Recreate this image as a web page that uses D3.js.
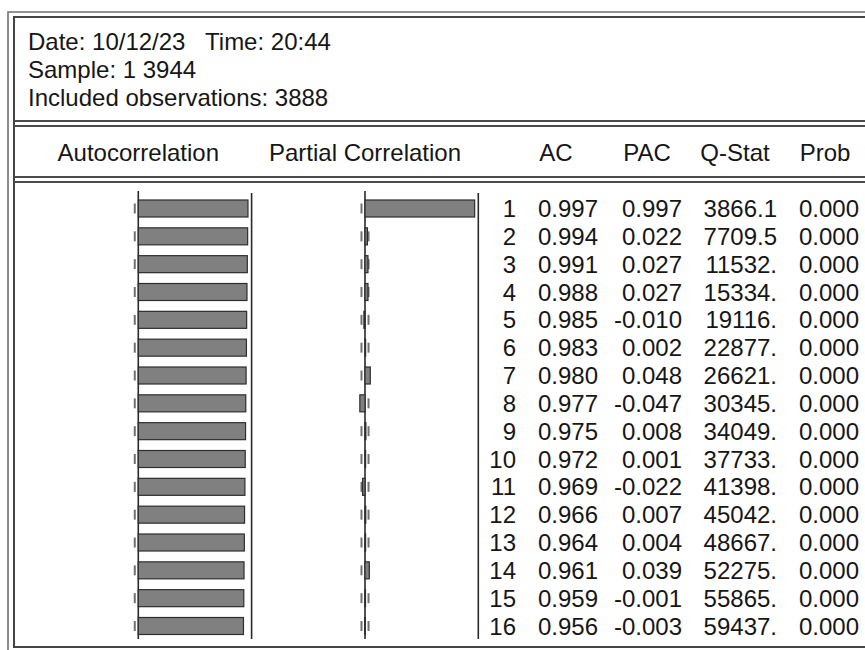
<!DOCTYPE html>
<html>
<head>
<meta charset="utf-8">
<script src="https://cdn.jsdelivr.net/npm/d3@7"></script>
<style>
  html, body { margin: 0; padding: 0; background: #fff; }
  svg { display: block; }
  text { font-family: "Liberation Sans", Arial, sans-serif; fill: #161616; white-space: pre; }
</style>
</head>
<body>
<svg id="chart" width="865" height="650"></svg>
<script>
// Correlogram output: header info, AC / PAC bar panels, and the statistics table
const headerLines = ["Date: 10/12/23   Time: 20:44", "Sample: 1 3944", "Included observations: 3888"];
const columnTitles = ["Autocorrelation", "Partial Correlation", "AC", "PAC", "Q-Stat", "Prob"];
const lags = [1, 2, 3, 4, 5, 6, 7, 8, 9, 10, 11, 12, 13, 14, 15, 16];
const acValues = [0.997, 0.994, 0.991, 0.988, 0.985, 0.983, 0.980, 0.977, 0.975, 0.972, 0.969, 0.966, 0.964, 0.961, 0.959, 0.956];
const pacValues = [0.997, 0.022, 0.027, 0.027, -0.010, 0.002, 0.048, -0.047, 0.008, 0.001, -0.022, 0.007, 0.004, 0.039, -0.001, -0.003];
const qStats = ["3866.1", "7709.5", "11532.", "15334.", "19116.", "22877.", "26621.", "30345.", "34049.", "37733.", "41398.", "45042.", "48667.", "52275.", "55865.", "59437."];
const probs = ["0.000", "0.000", "0.000", "0.000", "0.000", "0.000", "0.000", "0.000", "0.000", "0.000", "0.000", "0.000", "0.000", "0.000", "0.000", "0.000"];
const nObs = 3888;

const svg = d3.select("#chart");
const W = 865, H = 650;
const FS = 24;

// approximate 2 standard-error band
const band = 2 / Math.sqrt(nObs);

// scales
const y = d3.scalePoint().domain(lags).range([208.5, 626]);
const barH = 17;
const xAc = d3.scaleLinear().domain([-1, 1]).range([138.3 - 110, 138.3 + 110]);
const xPac = d3.scaleLinear().domain([-1, 1]).range([365 - 110, 365 + 110]);
const edge = 1.03;

// frame
const frame = svg.append("g");
frame.append("path").attr("d", `M8,${H + 2} V12 H${W + 2}`)
  .attr("fill", "none").attr("stroke", "#707070").attr("stroke-width", 1.6);
frame.append("path").attr("d", `M${W + 2},647 H14 V17 H${W + 2}`)
  .attr("fill", "none").attr("stroke", "#454545").attr("stroke-width", 2);
[121, 126, 177, 182].forEach(yy => {
  frame.append("line").attr("x1", 14).attr("x2", W + 2).attr("y1", yy).attr("y2", yy)
    .attr("stroke", "#4a4a4a").attr("stroke-width", 1.8);
});

// header text
svg.append("g").selectAll("text").data(headerLines).join("text")
  .attr("x", 28).attr("y", (d, i) => 50 + i * 28)
  .attr("font-size", FS).text(d => d);

// column titles
const titleX = [xAc(0), xPac(0), 556, 647, 735, 825];
svg.append("g").selectAll("text").data(columnTitles).join("text")
  .attr("x", (d, i) => titleX[i]).attr("y", 161)
  .attr("text-anchor", "middle").attr("font-size", FS).text(d => d);

// panel guide lines
const guides = svg.append("g").attr("stroke", "#2a2a2a").attr("stroke-width", 1.6);
[xAc(0), xAc(edge), xPac(0), xPac(edge)].forEach((gx, i) => {
  guides.append("line").attr("x1", gx).attr("x2", gx)
    .attr("y1", i % 2 === 0 ? 191 : 193).attr("y2", 639);
});

// confidence band markers
function bandMarks(scale) {
  const g = svg.append("g").attr("stroke", "#707070").attr("stroke-width", 2);
  [-band, band].forEach(b => {
    g.selectAll(null).data(lags).join("line")
      .attr("x1", scale(b)).attr("x2", scale(b))
      .attr("y1", d => y(d) - 5).attr("y2", d => y(d) + 5);
  });
}
bandMarks(xAc);
bandMarks(xPac);

// bars
function bars(values, scale) {
  svg.append("g").selectAll("rect").data(values).join("rect")
    .attr("x", d => Math.min(scale(0), scale(d)))
    .attr("width", d => Math.max(Math.abs(scale(d) - scale(0)), 0.6))
    .attr("y", (d, i) => y(lags[i]) - barH / 2)
    .attr("height", barH)
    .attr("fill", "#808080").attr("stroke", "#2e2e2e").attr("stroke-width", 1.2);
}
bars(acValues, xAc);
bars(pacValues, xPac);

// statistics table
const table = svg.append("g").attr("font-size", FS).attr("text-anchor", "end");
const cols = [
  { x: 516, vals: lags.map(String) },
  { x: 598, vals: acValues.map(v => v.toFixed(3)) },
  { x: 682, vals: pacValues.map(v => v.toFixed(3)) },
  { x: 777, vals: qStats },
  { x: 859, vals: probs }
];
cols.forEach(c => {
  table.append("g").selectAll("text").data(c.vals).join("text")
    .attr("x", c.x).attr("y", (d, i) => y(lags[i]) + 8.5).text(d => d);
});
</script>
</body>
</html>
